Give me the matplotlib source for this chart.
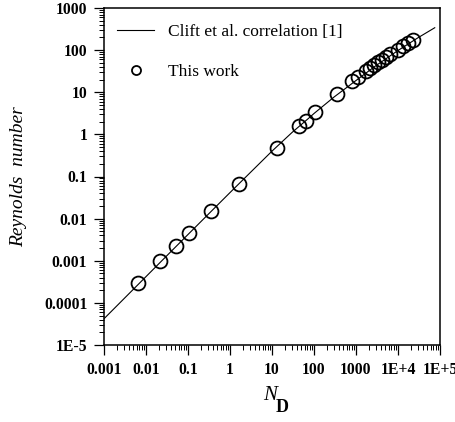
import matplotlib
matplotlib.use("Agg")
import matplotlib.pyplot as plt
from matplotlib.ticker import LogLocator, FixedLocator, FixedFormatter, NullFormatter

plt.rcParams['font.family'] = ['Liberation Serif', 'DejaVu Serif']

# Clift et al. correlation, Re against N_D
clift_nd = [0.001, 0.01, 0.1, 1, 10, 30, 73, 100, 300, 1000, 3000, 1e4, 3e4, 7.5e4]
clift_re = [4.2e-5, 4.2e-4, 4.2e-3, 0.0415, 0.40, 1.11, 2.37, 3.13, 7.7, 19.0, 43.0, 98, 197, 340]

# measured points
work_nd = [0.0066, 0.022, 0.053, 0.103, 0.35, 1.64, 13.2, 44, 63, 103, 344, 803, 1090,
           1730, 2150, 2680, 3340, 4160, 5180, 6450, 10000, 13150, 17300, 22750]
work_re = [2.96e-4, 1.01e-3, 2.30e-3, 4.44e-3, 0.0148, 0.0664, 0.488, 1.54, 2.08, 3.40, 9.08, 19.0, 23.0,
           31.9, 37.6, 44.4, 50.9, 58.3, 68.7, 80.9, 100.6, 122, 148, 174]

x_ticks = [1e-3, 1e-2, 1e-1, 1, 10, 100, 1000, 1e4, 1e5]
x_labels = ['0.001', '0.01', '0.1', '1', '10', '100', '1000', '1E+4', '1E+5']
y_ticks = [1e-5, 1e-4, 1e-3, 1e-2, 1e-1, 1, 10, 100, 1000]
y_labels = ['1E-5', '0.0001', '0.001', '0.01', '0.1', '1', '10', '100', '1000']

fig = plt.figure(figsize=(4.56, 4.22), dpi=100)
ax = fig.add_axes([104 / 456, 1 - 345 / 422, 336 / 456, 337 / 422])

ax.plot(clift_nd, clift_re, color='black', lw=0.8, label='Clift et al. correlation [1]')
ax.plot(work_nd, work_re, linestyle='none', marker='o', markersize=10, markerfacecolor='none',
        markeredgecolor='black', markeredgewidth=1.3, label='This work')

ax.set_xscale('log')
ax.set_yscale('log')
ax.set_xlim(1e-3, 1e5)
ax.set_ylim(1e-5, 1e3)

ax.xaxis.set_major_locator(FixedLocator(x_ticks))
ax.xaxis.set_major_formatter(FixedFormatter(x_labels))
ax.yaxis.set_major_locator(FixedLocator(y_ticks))
ax.yaxis.set_major_formatter(FixedFormatter(y_labels))
ax.xaxis.set_minor_locator(LogLocator(base=10, subs=range(2, 10), numticks=20))
ax.yaxis.set_minor_locator(LogLocator(base=10, subs=range(2, 10), numticks=20))
ax.xaxis.set_minor_formatter(NullFormatter())
ax.yaxis.set_minor_formatter(NullFormatter())

ax.tick_params(which='major', direction='out', length=7, width=0.9, labelsize=11.3, pad=5)
ax.tick_params(which='minor', direction='out', length=3.6, width=0.7)
ax.tick_params(top=False, right=False, which='both')
for lab in ax.get_xticklabels() + ax.get_yticklabels():
    lab.set_fontweight('bold')
for s in ax.spines.values():
    s.set_linewidth(1.1)

ax.set_ylabel('Reynolds  number', fontsize=14, style='italic', labelpad=12)

# N with bold subscript D under the x axis
fig.text(263 / 456, 1 - 400 / 422, 'N', fontsize=15, style='italic', ha='left', va='baseline')
fig.text(276 / 456, 1 - 412 / 422, 'D', fontsize=13, weight='bold', ha='left', va='baseline')

ax.legend(loc='upper left', bbox_to_anchor=(0.04, 0.952), frameon=False, fontsize=12.5,
          handlelength=2.1, handletextpad=0.8, labelspacing=1.37, markerscale=0.65,
          borderaxespad=0, borderpad=0)

fig.savefig('out.png', dpi=100)
